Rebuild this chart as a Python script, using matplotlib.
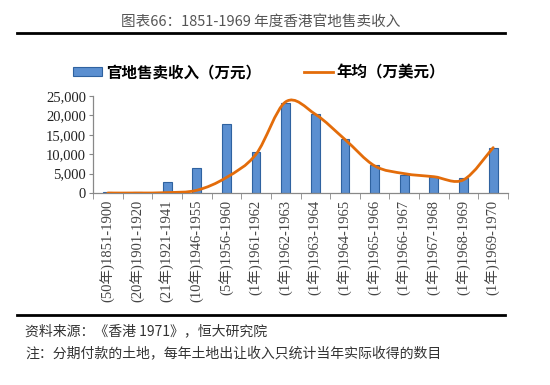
import numpy as np
import matplotlib
matplotlib.use('Agg')
import matplotlib.pyplot as plt
from matplotlib.path import Path
from matplotlib.patches import PathPatch
from matplotlib.lines import Line2D
from matplotlib.ticker import FuncFormatter, FixedLocator

plt.rcParams['font.family'] = ['Noto Sans CJK SC', 'DejaVu Sans']

# 数据
periods = ["(50年)1851-1900", "(20年)1901-1920", "(21年)1921-1941", "(10年)1946-1955",
           "(5年)1956-1960", "(1年)1961-1962", "(1年)1962-1963", "(1年)1963-1964",
           "(1年)1964-1965", "(1年)1965-1966", "(1年)1966-1967", "(1年)1967-1968",
           "(1年)1968-1969", "(1年)1969-1970"]
income = [200, 200, 2800, 6500, 17700, 10600, 23300, 20400, 14000, 7200, 4700, 4000, 3900, 11700]
annual = [0, 0, 100, 700, 4000, 10000, 23500, 20300, 13800, 7000, 5000, 4200, 3400, 11700]
yticks = [0, 5000, 10000, 15000, 20000, 25000]

title = "图表66：1851-1969 年度香港官地售卖收入"
bar_label = "官地售卖收入（万元）"
line_label = "年均（万美元）"
source = "资料来源：《香港 1971》，恒大研究院"
note = "注：分期付款的土地，每年土地出让收入只统计当年实际收得的数目"

serif = ['Liberation Serif', 'Noto Sans CJK SC']
bar_color = '#5B8FD0'
bar_edge = '#2F62A0'
line_color = '#E36C0A'

fig = plt.figure(figsize=(5.5, 3.85), dpi=100)
ax = fig.add_axes([93 / 550, 1 - 193 / 385, 415 / 550, 97 / 385])

x = np.arange(len(periods))
ax.bar(x, income, width=0.3, color=bar_color, edgecolor=bar_edge, linewidth=0.8,
       zorder=2, label=bar_label)

# 平滑曲线（类似Excel的平滑线）
pts = np.column_stack([x, annual]).astype(float)
verts = [tuple(pts[0])]
codes = [Path.MOVETO]
n = len(pts)
for i in range(n - 1):
    p0 = pts[max(i - 1, 0)]
    p1 = pts[i]
    p2 = pts[i + 1]
    p3 = pts[min(i + 2, n - 1)]
    c1 = p1 + (p2 - p0) / 6.0
    c2 = p2 - (p3 - p1) / 6.0
    verts += [tuple(c1), tuple(c2), tuple(p2)]
    codes += [Path.CURVE4] * 3
ax.add_patch(PathPatch(Path(verts, codes), facecolor='none', edgecolor=line_color,
                       linewidth=2, zorder=3, capstyle='round'))
line_handle = Line2D([], [], color=line_color, linewidth=2, label=line_label)

ax.set_xlim(-0.5, len(periods) - 0.5)
ax.set_ylim(0, 25000)
ax.set_yticks(yticks)
ax.yaxis.set_major_formatter(FuncFormatter(lambda v, p: f"{int(v):,}"))
ax.set_xticks(x)
ax.set_xticklabels(periods, rotation=90, family=serif, fontsize=10.5, color='#444444')
ax.xaxis.set_minor_locator(FixedLocator(np.arange(-0.5, len(periods), 1.0)))
ax.tick_params(axis='x', which='major', length=0, pad=5)
ax.tick_params(axis='x', which='minor', length=4, color='#888888', direction='out')
ax.tick_params(axis='y', length=3, color='#888888', direction='out', pad=2)
for lab in ax.get_yticklabels():
    lab.set_family(serif)
    lab.set_fontsize(10.5)
    lab.set_color('#222222')

for s in ['top', 'right']:
    ax.spines[s].set_visible(False)
for s in ['left', 'bottom']:
    ax.spines[s].set_color('#888888')
    ax.spines[s].set_linewidth(0.9)

handles = [ax.patches[0], line_handle]
leg = fig.legend(handles, [bar_label, line_label], ncol=2, frameon=False,
                 loc='center', bbox_to_anchor=(259 / 550, 1 - 72 / 385),
                 prop={'family': 'Noto Sans CJK SC', 'weight': 'bold', 'size': 11.2},
                 handlelength=1.86, handleheight=0.45, columnspacing=2.75,
                 handletextpad=0.25)

fig.text(261 / 550, 1 - 22 / 385, title, ha='center', va='center', fontsize=10.5,
         color='#555555', weight='light')
fig.add_artist(Line2D([17 / 550, 505 / 550], [1 - 33 / 385] * 2, color='black', linewidth=2))
fig.add_artist(Line2D([17 / 550, 505 / 550], [1 - 315 / 385] * 2, color='black', linewidth=2))
fig.text(25 / 550, 1 - 331 / 385, source, ha='left', va='center', fontsize=10,
         color='#333333', style='italic', weight='light')
fig.text(25 / 550, 1 - 353 / 385, note, ha='left', va='center', fontsize=10,
         color='#333333', style='italic', weight='light')

fig.savefig('out.png', dpi=100)
